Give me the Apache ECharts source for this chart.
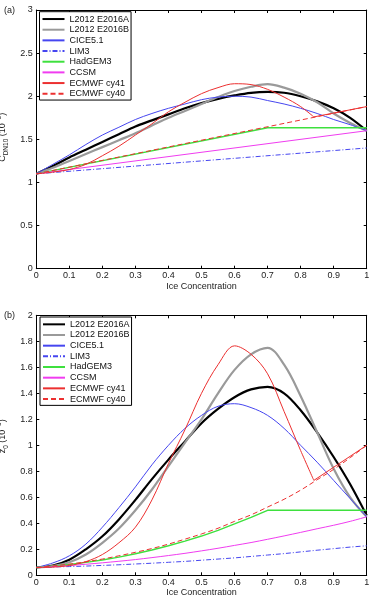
<!DOCTYPE html>
<html><head><meta charset="utf-8">
<script src="https://cdn.jsdelivr.net/npm/echarts@6/dist/echarts.min.js"></script>
<style>html,body{margin:0;padding:0;background:#fff}#c{width:370px;height:599px}</style>
</head><body><div id="c"></div><script>
// ---------- data ----------
const seriesNames = ['L2012 E2016A','L2012 E2016B','CICE5.1','LIM3','HadGEM3','CCSM','ECMWF cy41','ECMWF cy40'];
const iceConc = [0,0.05,0.1,0.15,0.2,0.25,0.3,0.35,0.4,0.45,0.5,0.55,0.6,0.65,0.7,0.75,0.8,0.85,0.9,0.95,1];
const lineEnds = [0,1];
const hadConcA = [0,0.7,1];
const cy41Conc = [0,0.05,0.1,0.15,0.2,0.25,0.3,0.35,0.4,0.45,0.5,0.55,0.6,0.65,0.7,0.75,0.8,0.84];
const cy41TailConc = [0.84,1];
const hadConcB = [0,0.05,0.1,0.15,0.2,0.25,0.3,0.35,0.4,0.45,0.5,0.55,0.6,0.65,0.7,1];

// panel (a): C_DN10 (10^-3)
const cdA_E2016A = [1.10,1.19,1.29,1.38,1.47,1.56,1.65,1.72,1.79,1.86,1.92,1.97,2.01,2.04,2.05,2.04,2.00,1.94,1.86,1.75,1.60];
const cdA_E2016B = [1.10,1.17,1.25,1.33,1.41,1.49,1.57,1.66,1.75,1.83,1.91,1.99,2.06,2.11,2.14,2.10,2.03,1.93,1.80,1.69,1.60];
const cdA_CICE   = [1.10,1.21,1.32,1.44,1.55,1.64,1.73,1.80,1.86,1.91,1.96,1.99,2.00,1.99,1.95,1.91,1.86,1.80,1.73,1.67,1.60];
const cdA_LIM3   = [1.10,1.40];
const cdA_Had    = [1.10,1.635,1.635];
const cdA_CCSM   = [1.10,1.60];
const cdA_cy41   = [1.10,1.12,1.15,1.21,1.31,1.42,1.55,1.68,1.82,1.93,2.03,2.10,2.145,2.135,2.08,1.99,1.88,1.76];
const cdA_cy41Tail = [1.76,1.88];
const cdA_cy40   = [1.10,1.88];

// panel (b): z0 (10^-3)
const z0_E2016A = [0.06,0.075,0.12,0.20,0.30,0.43,0.58,0.74,0.89,1.03,1.17,1.28,1.37,1.43,1.45,1.40,1.27,1.10,0.91,0.70,0.46];
const z0_E2016B = [0.06,0.07,0.10,0.16,0.25,0.36,0.50,0.66,0.84,1.02,1.20,1.40,1.58,1.70,1.75,1.62,1.38,1.10,0.82,0.60,0.45];
const z0_CICE   = [0.06,0.095,0.15,0.24,0.37,0.52,0.68,0.85,1.00,1.13,1.23,1.30,1.32,1.29,1.23,1.13,1.00,0.87,0.73,0.59,0.45];
const z0_LIM3   = [0.06,0.064,0.067,0.071,0.076,0.081,0.087,0.093,0.100,0.107,0.116,0.125,0.134,0.145,0.156,0.167,0.180,0.193,0.205,0.217,0.227];
const z0_Had    = [0.06,0.07,0.083,0.099,0.118,0.14,0.166,0.195,0.227,0.263,0.302,0.346,0.395,0.445,0.50,0.50];
const z0_CCSM   = [0.06,0.067,0.075,0.085,0.096,0.108,0.121,0.136,0.152,0.169,0.188,0.208,0.23,0.252,0.277,0.303,0.33,0.358,0.385,0.415,0.45];
const z0_cy41   = [0.06,0.063,0.075,0.105,0.16,0.25,0.37,0.58,0.86,1.12,1.40,1.62,1.765,1.70,1.55,1.26,0.96,0.73];
const z0_cy41Tail = [0.73,1.00];
const z0_cy40   = [0.06,0.072,0.086,0.104,0.125,0.15,0.177,0.206,0.24,0.278,0.318,0.362,0.415,0.465,0.525,0.585,0.655,0.735,0.815,0.905,1.0];

const xTicks = {min:0, max:1, interval:0.1};
const yTicksA = {min:0, max:3, interval:0.5};
const yTicksB = {min:0, max:2, interval:0.2};

// ---------- styling ----------
const FONT = '"Liberation Sans", Arial, Helvetica, sans-serif';
const TXT = '#222';
const styles = {
  'L2012 E2016A': {color:'#000000', width:2.2, type:'solid'},
  'L2012 E2016B': {color:'#9a9a9a', width:2.2, type:'solid'},
  'CICE5.1':      {color:'#4646f0', width:1, type:'solid'},
  'LIM3':         {color:'#4646f0', width:1, type:[5,2,1,2]},
  'HadGEM3':      {color:'#3ee03e', width:1.4, type:'solid'},
  'CCSM':         {color:'#f03cf0', width:1, type:'solid'},
  'ECMWF cy41':   {color:'#ec3030', width:1, type:'solid'},
  'ECMWF cy40':   {color:'#ec3030', width:1, type:[5,3]}
};
const pairs = (xs, ys) => xs.map((x,i)=>[x, ys[i]]);
function mk(name, xs, ys, axis, smooth){
  const s = styles[name];
  return {name, type:'line', xAxisIndex:axis, yAxisIndex:axis, data:pairs(xs,ys),
    showSymbol:false, symbol:'none', smooth: smooth ? 0.35 : false, animation:false,
    lineStyle:{color:s.color, width:s.width, type:s.type}, itemStyle:{color:s.color},
    emphasis:{disabled:true}, silent:true};
}
const series = [
  mk('L2012 E2016A', iceConc, cdA_E2016A, 0, true),
  mk('L2012 E2016B', iceConc, cdA_E2016B, 0, true),
  mk('CICE5.1', iceConc, cdA_CICE, 0, true),
  mk('LIM3', lineEnds, cdA_LIM3, 0, false),
  mk('HadGEM3', hadConcA, cdA_Had, 0, false),
  mk('CCSM', lineEnds, cdA_CCSM, 0, false),
  mk('ECMWF cy41', cy41Conc, cdA_cy41, 0, true),
  mk('ECMWF cy41', cy41TailConc, cdA_cy41Tail, 0, false),
  mk('ECMWF cy40', lineEnds, cdA_cy40, 0, false),
  mk('L2012 E2016A', iceConc, z0_E2016A, 2, true),
  mk('L2012 E2016B', iceConc, z0_E2016B, 2, true),
  mk('CICE5.1', iceConc, z0_CICE, 2, true),
  mk('LIM3', iceConc, z0_LIM3, 2, true),
  mk('HadGEM3', hadConcB, z0_Had, 2, false),
  mk('CCSM', iceConc, z0_CCSM, 2, true),
  mk('ECMWF cy41', cy41Conc, z0_cy41, 2, true),
  mk('ECMWF cy41', cy41TailConc, z0_cy41Tail, 2, false),
  mk('ECMWF cy40', iceConc, z0_cy40, 2, true)
];

const axisLine = {show:true, onZero:false, lineStyle:{color:'#000', width:1}};
const axisTick = {show:true, inside:true, length:3, lineStyle:{color:'#000', width:1}};
const lbl = {color:TXT, fontFamily:FONT, fontSize:9, hideOverlap:false, showMinLabel:true, showMaxLabel:true};
function xAx(grid, pos, withLabels){
  return Object.assign({type:'value', gridIndex:grid, position:pos}, xTicks, {
    axisLine, axisTick, splitLine:{show:false},
    axisLabel: withLabels ? Object.assign({margin:2.5}, lbl) : {show:false},
    name: withLabels ? 'Ice Concentration' : '', nameLocation:'middle', nameGap:13,
    nameTextStyle:{color:TXT, fontFamily:FONT, fontSize:9}
  });
}
const rich = {
  n:{fontFamily:FONT, fontSize:9, color:TXT, lineHeight:14, verticalAlign:'middle'},
  s:{fontFamily:FONT, fontSize:6.5, color:TXT, lineHeight:8, verticalAlign:'bottom'},
  p:{fontFamily:FONT, fontSize:6.5, color:TXT, lineHeight:8, verticalAlign:'top'}
};
function yAx(grid, pos, ticks, name, pad){
  return Object.assign({type:'value', gridIndex:grid, position:pos}, ticks, {
    axisLine, axisTick, splitLine:{show:false},
    axisLabel: name ? Object.assign({margin:3.5}, lbl) : {show:false},
    name: name || '', nameLocation:'middle', nameGap:19, nameRotate:90,
    nameTextStyle:{color:TXT, fontFamily:FONT, fontSize:9, rich, padding:pad || 0}
  });
}
const legendBase = {orient:'vertical', data:seriesNames, itemWidth:22, itemHeight:8, itemGap:0,
  padding:[2,2,1,2], borderColor:'#000', borderWidth:1, backgroundColor:'#fff', borderRadius:0,
  selectedMode:false, itemStyle:{opacity:0, borderWidth:0},
  textStyle:{fontFamily:FONT, fontSize:9, color:'#111', lineHeight:10.67}};

const option = {
  animation:false,
  backgroundColor:'#fff',
  grid:[
    {left:36.3, top:10, width:330.4, height:258.7, containLabel:false, outerBoundsMode:'none'},
    {left:36.3, top:315.3, width:330.4, height:260, containLabel:false, outerBoundsMode:'none'}
  ],
  xAxis:[xAx(0,'bottom',true), xAx(0,'top',false), xAx(1,'bottom',true), xAx(1,'top',false)],
  yAxis:[
    yAx(0,'left',yTicksA,'{n|C}{s|DN10}{n| (10}{p|−3}{n|)}',[0,0,0,4]), yAx(0,'right',yTicksA,null),
    yAx(1,'left',yTicksB,'{n|z}{s|0}{n| (10}{p|−3}{n|)}',[0,0,0,18]), yAx(1,'right',yTicksB,null)
  ],
  legend:[
    Object.assign({}, legendBase, {left:39.5, top:11.7}),
    Object.assign({}, legendBase, {left:40, top:317})
  ],
  graphic:[
    {type:'text', left:4, top:6, style:{text:'(a)', fontFamily:FONT, fontSize:9, fill:TXT}},
    {type:'text', left:4, top:311.5, style:{text:'(b)', fontFamily:FONT, fontSize:9, fill:TXT}}
  ],
  series
};
const chart = echarts.init(document.getElementById('c'), null, {renderer:'canvas'});
chart.setOption(option);
</script></body></html>
